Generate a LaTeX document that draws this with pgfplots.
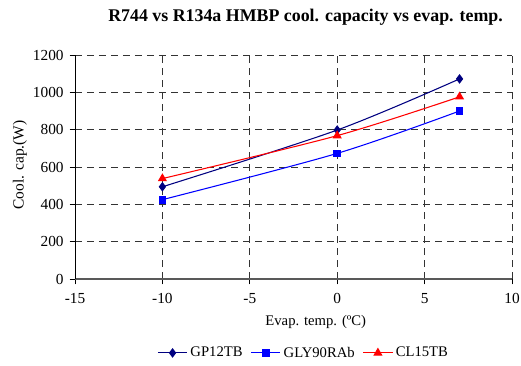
\documentclass[border=0pt]{standalone}
\usepackage{fontspec}
\setmainfont{Liberation Serif}
\usepackage{pgfplots}
\pgfplotsset{compat=1.18}
\definecolor{navy}{RGB}{0,0,128}
\begin{document}
\begin{tikzpicture}
\useasboundingbox (-56.25pt,-64.5pt) rectangle (334.5pt,209.25pt);
\begin{axis}[
  scale only axis,
  width=327.75pt, height=168pt,
  xmin=-15, xmax=10, ymin=0, ymax=1200,
  xtick={-15,-10,...,10}, ytick={0,200,...,1200},
  axis x line=bottom, axis y line=left,
  axis line style={-},
  x axis line style={gray!70!black, line width=0.9pt},
  y axis line style={black, line width=0.5pt},
  tick align=outside, major tick length=4pt,
  tick style={black, line width=0.5pt},
  grid=major,
  major grid style={black!80, dash pattern=on 5.5pt off 3.5pt, line width=0.5pt},
  font=\fontsize{11}{13}\selectfont,
  ticklabel style={font=\fontsize{11.5}{13}\selectfont},
  /pgf/number format/assume math mode=true,
  /pgf/number format/1000 sep={},
  xticklabel style={yshift=-3.5pt},
  yticklabel style={xshift=-1pt},
  xlabel={Evap. temp. (ºC)},
  ylabel={Cool. cap.(W)},
  xlabel style={at={(axis description cs:0.551,-0.192)}, anchor=center},
  ylabel style={at={(axis description cs:-0.126,0.509)}, anchor=center, font=\fontsize{11.6}{13}\selectfont},
  legend columns=3,
  legend style={at={(axis description cs:0.524,-0.33)}, anchor=center, draw=none, fill=none,
    /tikz/every even column/.append style={column sep=4pt}},
  legend image code/.code={\draw[#1] (0pt,0pt) -- (11pt,0pt) (11pt,0pt) -- (22pt,0pt); \path[#1] plot coordinates {(11pt,0pt)};},
  legend cell align=left,
]
\addplot[navy, line width=0.8pt, smooth, mark=diamond*, mark size=3pt, mark options={solid, fill=navy}] coordinates {(-10,494) (0,798) (7,1072)};
\addlegendentry{GP12TB}
\addplot[blue, line width=0.8pt, smooth, mark=square*, mark size=2.5pt, mark options={solid, fill=blue}] coordinates {(-10,425) (0,673) (7,900)};
\addlegendentry{GLY90RAb}
\addplot[red, line width=0.8pt, smooth, mark=triangle*, mark size=3.2pt, mark options={solid, fill=red}] coordinates {(-10,538) (0,768) (7,976)};
\addlegendentry{CL15TB}
\end{axis}
\node[font=\bfseries\fontsize{13.4}{15}\selectfont, anchor=center] at (172.9pt,196.5pt) {R744 vs R134a HMBP cool. capacity vs evap. temp.};
\end{tikzpicture}
\end{document}
